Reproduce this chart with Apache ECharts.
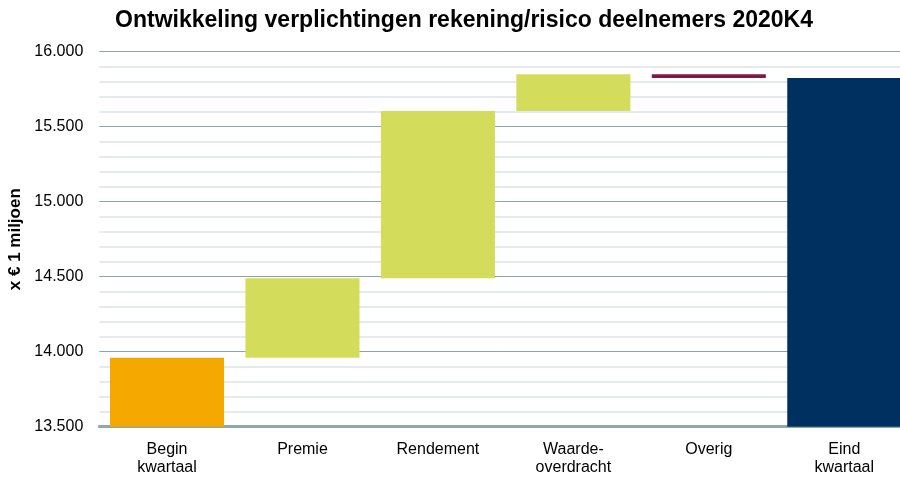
<!DOCTYPE html>
<html>
<head>
<meta charset="utf-8">
<script src="https://cdn.jsdelivr.net/npm/echarts@6/dist/echarts.min.js"></script>
<style>html,body{margin:0;padding:0;background:#fff}#c{width:900px;height:480px}</style>
</head>
<body>
<div id="c"></div>
<script>
const categories = ['Begin\nkwartaal', 'Premie', 'Rendement', 'Waarde-\noverdracht', 'Overig', 'Eind\nkwartaal'];
const beginValue = 13960;
const deltas = [530, 1115, 245, -25];
const barColors = ['#f5a800', '#d4dc5c', '#d4dc5c', '#d4dc5c', '#7d1a48', '#00305f'];
const yTicks = { min: 13500, max: 16000, interval: 500 };

// Build waterfall: base (invisible) + visible height
const base = [];
const visible = [];
let running = beginValue;
base.push(0);
visible.push(beginValue);
deltas.forEach(d => {
  const next = running + d;
  base.push(Math.min(running, next));
  visible.push(Math.abs(d));
  running = next;
});
base.push(0);
visible.push(running);

const FONT = 'Liberation Sans, Arial, sans-serif';
const chart = echarts.init(document.getElementById('c'));
chart.setOption({
  animation: false,
  title: {
    text: 'Ontwikkeling verplichtingen rekening/risico deelnemers 2020K4',
    left: 459, top: 4, textAlign: 'center',
    textStyle: { fontFamily: FONT, fontWeight: 'bold', fontSize: 23, color: '#000' }
  },
  grid: { left: 99.3, right: -12, top: 51.7, bottom: 53.3, containLabel: false, outerBoundsMode: 'none' },
  xAxis: {
    type: 'category', data: categories,
    axisLine: { show: true, lineStyle: { color: '#8fa8aa', width: 3 } },
    axisTick: { show: false },
    axisLabel: { fontFamily: FONT, fontSize: 16, color: '#000', margin: 14, lineHeight: 18, interval: 0 }
  },
  yAxis: {
    type: 'value', min: yTicks.min, max: yTicks.max, interval: yTicks.interval,
    name: 'x € 1 miljoen', nameLocation: 'middle', nameGap: 67, nameRotate: 90,
    nameTextStyle: { fontFamily: FONT, fontWeight: 'bold', fontSize: 17, color: '#000' },
    axisLine: { show: false }, axisTick: { show: false },
    axisLabel: {
      fontFamily: FONT, fontSize: 16, color: '#000', margin: 16,
      formatter: v => (v / 1000).toFixed(3)
    },
    splitLine: { show: true, lineStyle: { color: '#8aa5a8', width: 1 } },
    minorTick: { show: false, splitNumber: 5 },
    minorSplitLine: { show: true, lineStyle: { color: '#dde5e7', width: 1.5 } }
  },
  series: [
    {
      type: 'bar', stack: 'w', data: base, barWidth: '84.2%',
      itemStyle: { color: 'transparent' }, silent: true
    },
    {
      type: 'bar', stack: 'w', barWidth: '84.2%',
      data: visible.map((v, i) => ({ value: v, itemStyle: { color: barColors[i] } }))
    }
  ]
});
</script>
</body>
</html>
